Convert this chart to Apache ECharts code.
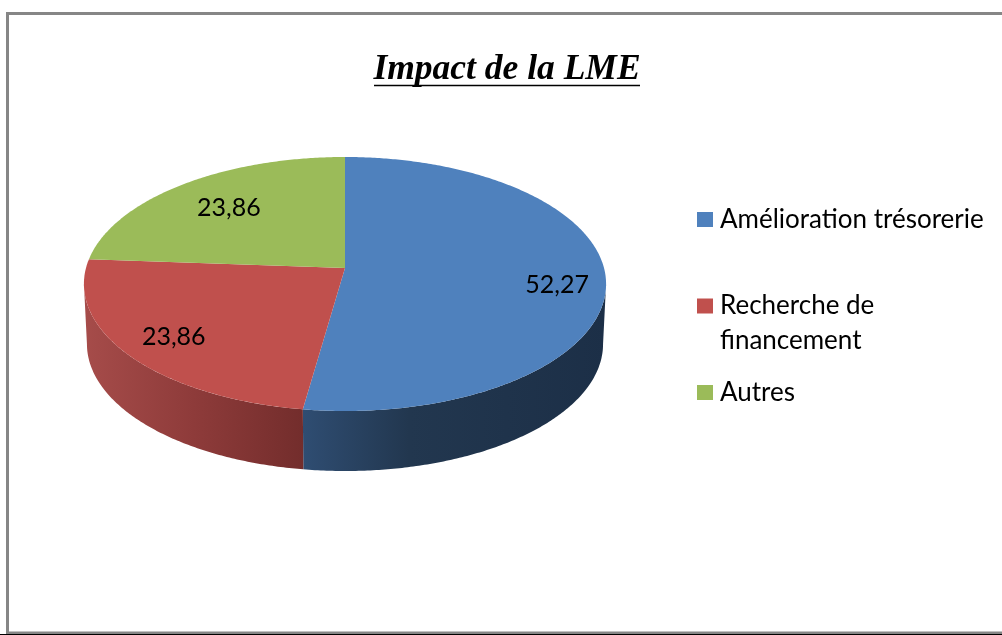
<!DOCTYPE html>
<html>
<head>
<meta charset="utf-8">
<style>html,body{margin:0;padding:0;background:#fff}#c{width:1002px;height:635px}</style>
<script src="https://cdn.jsdelivr.net/npm/echarts@6/dist/echarts.min.js"></script>
</head>
<body>
<div id="c"></div>
<script>
const categories = ['Amélioration trésorerie', 'Recherche de financement', 'Autres'];
const values = [52.27, 23.86, 23.86];
const legendLabels = ['Amélioration trésorerie', '\nRecherche de\nfinancement', 'Autres'];
const titleText = 'Impact de la LME';
const colors = ['#4f81bd', '#c0504d', '#9bbb59'];
const labelRadius = [0.8, 0.8, 0.72];
const labelShift = [[4, 10], [1, 2], [3, 2]];

const total = values.reduce((a, b) => a + b, 0);
const cx = 345, cy = 268, A = 259, B = 125, K = 0.126;
const botDy = 60, botA = 256;
const leftFace = Math.acos(-K), rightFace = 2 * Math.PI - leftFace;

function project(t, r, a, dy) {
  const w = 1 + K * r * Math.cos(t);
  return [cx + a * r * Math.sin(t) / w, cy + dy - B * r * Math.cos(t) / w];
}
function arc(t0, t1, a, dy) {
  const pts = [], n = Math.max(2, Math.ceil(Math.abs(t1 - t0) / 0.01));
  for (let i = 0; i <= n; i++) pts.push(project(t0 + (t1 - t0) * i / n, 1, a, dy));
  return pts;
}
const sideFills = [
  { type: 'linear', x: 0, y: 0, x2: 1, y2: 0, colorStops: [
    { offset: 0, color: '#2f4d72' }, { offset: 0.35, color: '#22374f' }, { offset: 1, color: '#1c2f47' }] },
  { type: 'linear', x: 0, y: 0, x2: 1, y2: 0, colorStops: [
    { offset: 0, color: '#a64c4a' }, { offset: 0.5, color: '#8e3b3a' }, { offset: 1, color: '#732d2c' }] },
  null
];

function makeRender(idx) {
  return function (params, api) {
    const v = api.value(0);
    const before = values.slice(0, idx).reduce((a, b) => a + b, 0);
    const t0 = before / total * 2 * Math.PI;
    const t1 = (before + v) / total * 2 * Math.PI;
    const children = [];
    const s0 = Math.max(t0, leftFace), s1 = Math.min(t1, rightFace);
    if (s1 > s0 && sideFills[idx]) {
      children.push({
        type: 'polygon',
        shape: { points: arc(s0, s1, A, 0).concat(arc(s1, s0, botA, botDy)) },
        style: { fill: sideFills[idx] }
      });
    }
    children.push({
      type: 'polygon',
      shape: { points: [[cx, cy]].concat(arc(t0, t1, A, 0)) },
      style: { fill: colors[idx] }
    });
    const p = project((t0 + t1) / 2, labelRadius[idx], A, 0);
    children.push({
      type: 'text',
      style: {
        text: String(v).replace('.', ','), x: p[0] + labelShift[idx][0], y: p[1] + labelShift[idx][1],
        align: 'center', verticalAlign: 'middle',
        font: '25px Lato', fill: '#000'
      }
    });
    return { type: 'group', children };
  };
}

const chart = echarts.init(document.getElementById('c'), null, { renderer: 'canvas' });
const legendTops = [202, 253.5, 375];
chart.setOption({
  animation: false,
  backgroundColor: '#fff',
  title: {
    text: titleText, left: 507, top: 52, textAlign: 'center', padding: 0,
    textStyle: { fontFamily: 'Liberation Serif', fontStyle: 'italic', fontWeight: 'bold', fontSize: 35.5, color: '#000' }
  },
  legend: categories.map((c, i) => ({
    data: [c], orient: 'vertical', left: 697, top: legendTops[i], padding: 0,
    itemWidth: 16, itemHeight: 15, selectedMode: false, icon: 'rect',
    formatter: () => legendLabels[i],
    textStyle: { fontFamily: 'Lato', fontSize: 26, lineHeight: 35, color: '#000', padding: [0, 0, 0, 2] }
  })),
  graphic: [
    { type: 'rect', silent: true, z: 100, shape: { x: 7.5, y: 13.5, width: 1100, height: 619.5 },
      style: { fill: 'none', stroke: '#868686', lineWidth: 3 } },
    { type: 'line', silent: true, z: 101, shape: { x1: 0, y1: 634.5, x2: 1002, y2: 634.5 },
      style: { stroke: '#000', lineWidth: 1 } },
    { type: 'line', silent: true, z: 100, shape: { x1: 374, y1: 85.5, x2: 640, y2: 85.5 },
      style: { stroke: '#000', lineWidth: 1.5 } }
  ],
  series: categories.map((c, i) => ({
    type: 'custom', name: c, coordinateSystem: 'none',
    itemStyle: { color: colors[i] },
    data: [[values[i]]],
    renderItem: makeRender(i)
  }))
});
</script>
</body>
</html>
